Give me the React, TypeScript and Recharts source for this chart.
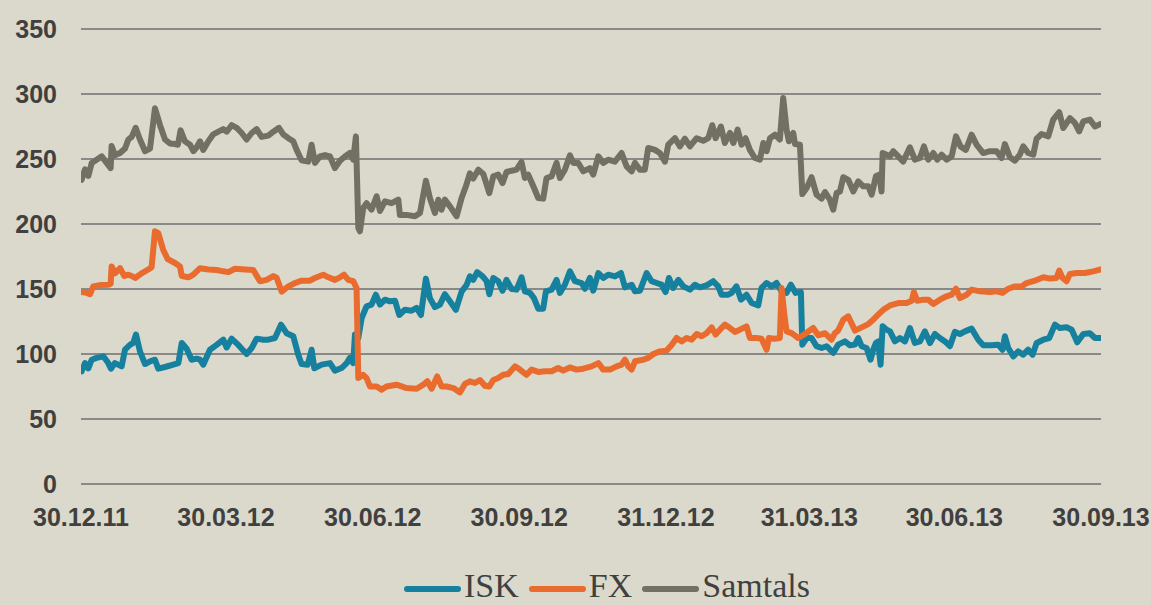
import React from 'react';
import { LineChart, Line, XAxis, YAxis, CartesianGrid } from 'recharts';

// x = days after 30.12.2011
const xTickDays = [0, 91, 183, 275, 367, 457, 548, 640];
const xTickLabels = ['30.12.11', '30.03.12', '30.06.12', '30.09.12', '31.12.12', '31.03.13', '30.06.13', '30.09.13'];
const yTicks = [0, 50, 100, 150, 200, 250, 300, 350];

const iskPoints: [number, number][] = [
  [0.4, 86.7], [2.5, 93], [4.6, 89], [6.7, 95.6], [9.8, 97], [14, 98.2], [17.1, 93], [18.8, 88.7], [21.3, 93], [25.5, 90.5],
  [27.6, 103.3], [30.7, 107], [32.8, 108.5], [34.5, 115], [37, 102], [40.2, 92.3], [43.3, 94.4], [46.4, 95.6], [48.5, 88.7], [52.7, 90],
  [57.9, 91.8], [61.1, 93], [63.2, 108.5], [66.3, 104], [69.4, 95.6], [72.6, 96.4], [74.7, 95.6], [76.7, 91.8], [80.9, 103.3], [85.1, 107],
  [89.3, 111], [91.4, 105], [94.5, 111.8], [98.7, 107], [103.9, 100], [107.1, 104.6], [110.2, 111.8], [114.4, 111], [117.5, 111], [121.7, 112.3],
  [125.5, 122.6], [129, 116], [133.2, 113.6], [136.3, 99.5], [138.4, 92.3], [142.2, 91.8], [144.7, 103.3], [146.4, 89], [151, 91.8], [156.2, 93],
  [159.3, 87.2], [163.5, 89.2], [166.7, 93], [168.7, 97], [170.8, 93], [171.9, 115], [174, 112.3], [176.1, 127.7], [179.2, 136.7], [182.3, 138],
  [185, 145.6], [187.6, 138], [190.7, 141.8], [193.8, 140.5], [197, 141], [199.7, 130], [203.2, 134], [207.4, 133.3], [210.6, 135.4], [213.3, 130],
  [216.4, 158], [218.9, 143], [222.1, 136], [225.2, 138], [228.3, 146], [231.5, 140.5], [235.2, 134], [238.8, 148], [242, 153.3], [244, 159.7],
  [246.1, 157], [248.6, 163], [252, 159.7], [254.5, 156], [256.2, 146], [258.7, 158.5], [261.8, 156], [264.5, 148.7], [267, 157], [270.2, 150],
  [273.3, 149.5], [276.4, 159], [278.5, 148.2], [281.7, 147], [284.2, 143], [286.9, 134.9], [290, 134.9], [291.7, 148.2], [295.3, 149.5], [298.4, 157],
  [300.5, 147], [303.6, 153.3], [306.8, 163.6], [309.9, 156], [314.1, 154.6], [316.2, 150.2], [319.3, 158.5], [321.4, 148.7], [324.6, 162.3], [327.7, 158.5],
  [330.8, 161], [335, 159.7], [338.8, 162.3], [341.3, 151.3], [345.5, 153.3], [347.6, 148.2], [350.7, 148.7], [354.9, 162.3], [358, 156], [361.2, 154.6],
  [364.3, 153.3], [366.8, 147.7], [368.9, 158.5], [371.6, 150.8], [374.8, 157], [377.9, 152], [382.1, 149.5], [385.2, 153.3], [388.3, 151.3], [392.5, 152.8],
  [396.7, 156], [399.8, 152], [401.9, 145.6], [406.1, 145.6], [408.2, 147], [411.3, 152], [414.1, 141.8], [417.6, 145.6], [420.8, 139.2], [424.9, 137.4],
  [427, 150.8], [430.2, 154.6], [433.3, 152], [436.4, 154.6], [439.6, 148.2], [442.7, 147], [445.4, 153.3], [448.4, 147], [451.7, 147.7], [452.6, 107.2],
  [455.3, 112.3], [458.4, 112.3], [461.5, 106], [464.7, 104.6], [467.8, 106], [472, 100.8], [475.1, 107.2], [479.3, 109.7], [482.5, 106.7], [485.6, 107.2],
  [487.7, 112.3], [489.8, 106], [492.9, 104.6], [495.4, 95.6], [497.1, 103.3], [498.8, 108.5], [500.2, 109.7], [501.7, 91.8], [503, 121.3], [505.5, 118.7],
  [507.6, 117.4], [510.7, 109.7], [513.8, 112.3], [517, 109.7], [520.1, 120], [523.2, 108.5], [526.4, 109.7], [529.5, 117.4], [532.7, 108.5], [535.8, 115.4],
  [538.9, 112.3], [542.1, 109.7], [545.2, 106], [548.3, 117], [551.5, 115.4], [554.6, 117.4], [558.8, 119.5], [563, 111], [566.1, 106.7], [571.3, 106.7],
  [575.5, 107.2], [578.2, 103.3], [579.7, 113.6], [581.8, 104.6], [585, 98.2], [588.1, 102], [591.2, 99.5], [594.3, 103.3], [597.1, 99.5], [599.6, 108.5],
  [603.8, 111], [607.5, 112.3], [611.1, 122.6], [614.2, 120], [618.4, 120.5], [621.6, 118.7], [625.1, 109], [628.9, 115.4], [633, 116], [636.2, 112.3],
  [639.8, 112.3],
];

const fxPoints: [number, number][] = [
  [0.4, 147.7], [3.6, 147], [5.6, 146], [7.7, 152], [11.9, 153], [17.2, 153.3], [18.6, 154], [19.2, 167.4], [21.3, 162], [24.5, 166],
  [27.2, 160], [29.7, 161], [31.8, 160], [34, 158.5], [38, 162], [42.2, 165], [44.3, 166.7], [46.4, 194.4], [48.5, 193], [51.6, 180],
  [54.4, 173], [59, 170], [62.1, 167.4], [63.2, 160], [67.4, 159], [70.5, 161], [74.7, 166], [79.9, 165], [85.1, 164.6], [89.3, 163.6],
  [92.5, 163], [96.6, 165.6], [103, 165], [108.1, 164.6], [112.3, 156], [116.5, 157], [120.7, 160], [122.8, 158.5], [125.9, 148], [130.1, 152],
  [134.3, 154.6], [138.4, 156.4], [143.7, 156.4], [146.8, 158.5], [152, 161], [155.2, 159], [159.3, 157], [162.5, 159], [165, 161], [167.7, 157],
  [170.8, 156], [172.9, 150.8], [174, 81.5], [177.1, 84], [179.2, 81.5], [181.3, 75], [185.5, 75], [188.6, 72.6], [191.7, 75], [198, 76.4],
  [204.3, 73.8], [210.6, 73.3], [214.8, 76.4], [217.3, 79], [220, 73.3], [223.5, 82.8], [226.3, 75], [229.4, 75], [233.6, 73.8], [237.8, 70.5],
  [240.9, 77], [244, 79], [247.2, 77.7], [250.3, 80], [253.4, 75.6], [256.2, 75], [258.7, 80], [261.8, 81.5], [264.9, 84], [268.1, 84.6],
  [272.3, 90.5], [275.4, 88], [279.6, 84], [282.7, 88], [286.9, 86.2], [291.1, 86.7], [295.3, 86.7], [299.4, 89.2], [302.6, 87.2], [306.8, 89.7],
  [310.9, 88], [315.1, 88.7], [320.4, 90.5], [324.6, 93], [327.7, 88], [331.9, 88], [336.1, 90.5], [339.2, 91.8], [341.3, 95.6], [343.4, 90.5],
  [345.5, 88], [347.6, 94.4], [352.8, 95.6], [355.9, 97], [359.1, 100], [363.2, 102], [367.4, 102.6], [370.6, 107], [373.7, 112.3], [376.8, 109.7],
  [380, 112.3], [383.1, 111], [386.3, 115.4], [389.4, 113.6], [392.5, 116], [395.7, 120.5], [398.2, 115], [400.9, 118.7], [404, 122.6], [407.2, 120],
  [410.3, 117], [413.4, 118.7], [417.6, 121.3], [419.7, 112.3], [423.9, 112.3], [427, 111.8], [430.2, 103.3], [431.6, 112.3], [435, 111.8], [438.5, 112.3],
  [439.6, 150.8], [441.3, 130.2], [442.7, 117.4], [445.9, 116], [450, 112.3], [454.2, 115.4], [459.4, 120], [462.6, 114.4], [466.8, 116], [470.9, 111],
  [473, 116], [475.1, 118], [478.3, 126.4], [481.4, 129], [485.6, 118], [489.8, 120.5], [494, 123], [497.1, 126.4], [500.2, 130.2], [503.4, 134],
  [507.6, 137.4], [512.8, 139.2], [518, 139.2], [521.2, 141], [522.6, 147.7], [524.7, 141], [528.5, 141.8], [531.6, 141.8], [534.8, 138.5], [538.9, 141.8],
  [543.1, 144.4], [546.3, 145.6], [549, 150.2], [551.5, 143], [555.7, 145.6], [558.8, 149.5], [564, 148.2], [570.3, 147.7], [574.5, 148.2], [578.2, 147],
  [581.8, 150.2], [586, 152], [590.2, 152], [593.3, 154.6], [598.5, 156.4], [603.8, 159], [608, 158], [612.1, 158.5], [613.8, 164.1], [615.9, 158.5],
  [618.4, 156], [620.5, 161.5], [624.7, 162.3], [629.9, 162.3], [635.1, 163.6], [639.8, 165],
];

const samtalsPoints: [number, number][] = [
  [0.4, 234], [2.5, 242], [4.6, 237], [6.7, 247], [9.8, 249.5], [13, 252], [16.1, 247], [18.6, 243], [19.2, 260], [21.3, 253],
  [24.5, 254.6], [27.6, 258], [29.7, 265], [31.8, 267], [34.3, 274], [37, 265], [40.2, 256], [43.3, 258], [46.4, 289], [49.6, 276],
  [52.7, 265], [55.8, 262], [59, 261.5], [60.8, 261], [62.5, 272], [65.2, 263.6], [68.4, 261], [70.5, 256], [72.6, 259], [74.7, 263.6],
  [76.7, 257], [79.9, 263.6], [83, 269], [86.2, 271], [89.3, 273], [91.4, 271], [94.5, 276], [97.7, 274], [100.8, 270], [103.9, 265],
  [107.1, 270], [110.2, 273], [113.3, 267], [117.5, 268], [120.7, 271], [124.2, 274], [126.9, 269], [130.1, 266], [133.2, 263.6], [135.3, 257],
  [138.4, 249], [142.6, 248], [144.7, 261], [146.8, 247], [149.9, 252], [153.1, 253], [156.2, 252], [159.3, 243], [162.5, 248.7], [165.6, 252],
  [168.7, 254.6], [170.8, 249.5], [172.5, 267.4], [174, 197], [175, 194.4], [177.1, 212.3], [179.2, 216], [182.3, 211], [185.5, 221.3], [187.6, 210],
  [190.7, 217.4], [194.9, 216], [199.1, 218.7], [200.1, 207], [204.3, 207], [209.5, 206], [212.7, 208.5], [216.4, 233.3], [218.9, 220], [222.1, 208.5],
  [224.2, 218.7], [226.2, 211], [228.3, 218.7], [231.5, 213.6], [235.7, 206], [238.8, 220], [241.5, 229], [244, 239], [246.1, 235], [249.3, 241.8],
  [252.4, 238.5], [256.2, 223.8], [258.7, 236.7], [261.8, 238], [264.5, 231.5], [267, 240], [270.2, 241], [273.3, 241.8], [276.4, 247.7], [278.5, 235.4],
  [280.6, 238], [283.8, 229], [286.9, 220], [290, 219.5], [292.1, 235.4], [295.3, 236.7], [298.4, 247], [300.5, 235.4], [303.6, 241.8], [306.8, 252.8],
  [308.9, 247], [312, 247], [315.1, 240.5], [319.3, 243], [321.4, 238], [324.6, 252], [327.7, 247], [330.8, 249.5], [335, 248], [339.2, 254.6],
  [342.3, 244.4], [345.5, 240.5], [347.6, 247], [350.7, 241.8], [353.8, 241.8], [355.9, 258.5], [360.1, 257], [363.2, 254.6], [366.4, 248], [368.5, 261],
  [372.7, 266], [375.8, 259.7], [378.9, 265.6], [382.1, 259.7], [386.3, 266], [390.4, 264], [393.6, 266], [396.1, 276], [398.2, 266], [401.5, 275],
  [404, 262.3], [407.2, 270], [409.3, 262.3], [412, 272.6], [414.5, 261], [417, 266], [419.7, 257], [422.8, 250.8], [426, 249.5], [428.1, 262.3],
  [430.2, 256], [432.3, 266], [435.4, 268.7], [438.5, 265], [440.6, 297], [442.7, 272.6], [444.2, 263.6], [446.9, 270], [448, 261.5], [451.1, 261],
  [452.6, 223], [455.3, 227.7], [458.4, 236], [461.5, 222.6], [464.7, 219.5], [466.8, 224.6], [469.9, 218.7], [472, 211], [474.1, 223.8], [476.2, 225],
  [478.3, 236], [481.4, 234], [484.6, 225], [487.7, 232.8], [490.8, 229], [494, 229], [496.1, 222.6], [498.8, 236.7], [500.9, 238], [502.3, 225],
  [503, 254.6], [505.5, 253.3], [507.6, 252], [509.7, 256], [512.8, 252], [515.9, 248], [520.1, 259], [523.2, 249.5], [526.4, 250.8], [528.9, 259.7],
  [531.6, 249.5], [534.8, 254.6], [537.3, 249.5], [540, 253.3], [543.1, 249.5], [546.3, 252], [549, 267.4], [551.9, 259.7], [555.2, 257], [558.8, 268.7],
  [561.9, 261], [566.1, 254.6], [570.3, 256], [574.5, 256], [577.6, 250.8], [579.7, 261.5], [582.9, 251.3], [586, 248.7], [589.1, 253.3], [591.2, 259.7],
  [594.3, 254.6], [597.5, 253.3], [599.6, 265.6], [602.7, 269.2], [606.9, 267.4], [610, 280.3], [613.8, 286], [616.3, 273.8], [620.5, 281.5], [623.6, 277.7],
  [626.3, 271.3], [628.9, 279], [633, 280.3], [636.2, 275], [639.8, 277],
];

const series = [
  { name: 'ISK', color: '#16809f', points: iskPoints },
  { name: 'FX', color: '#e96b2d', points: fxPoints },
  { name: 'Samtals', color: '#726f63', points: samtalsPoints },
];

const W = 1151;
const H = 605;
const BG = '#dbd9cb';
const TEXT = '#404040';
const tickStyle = { fontFamily: '"Liberation Sans", Arial, sans-serif', fontWeight: 700, fontSize: 25, fill: TEXT };

export default function App() {
  return (
    <div style={{ position: 'fixed', left: 0, top: 0, width: W, height: H, background: BG, overflow: 'hidden' }}>
      <LineChart width={W} height={H} margin={{ top: 29, right: 50, bottom: 0, left: 0 }}>
        <CartesianGrid vertical={false} stroke="#898989" strokeWidth={2.2} />
        <XAxis
          type="number"
          dataKey="day"
          domain={[0, 640]}
          ticks={xTickDays}
          tickFormatter={(d: number) => xTickLabels[xTickDays.indexOf(d)] ?? ''}
          axisLine={false}
          tickLine={false}
          tickSize={0}
          tickMargin={24}
          height={121}
          interval={0}
          tick={tickStyle}
          allowDataOverflow
        />
        <YAxis
          type="number"
          domain={[0, 350]}
          ticks={yTicks}
          axisLine={false}
          tickLine={false}
          tickSize={0}
          tickMargin={24}
          width={81}
          interval={0}
          tick={tickStyle}
        />
        {series.map((s) => (
          <Line
            key={s.name}
            name={s.name}
            data={s.points.map(([day, value]) => ({ day, value }))}
            dataKey="value"
            type="linear"
            stroke={s.color}
            strokeWidth={6}
            strokeLinejoin="round"
            strokeLinecap="round"
            dot={false}
            activeDot={false}
            isAnimationActive={false}
          />
        ))}
      </LineChart>
      <div
        style={{
          position: 'absolute',
          left: 404,
          top: 566,
          height: 39,
          display: 'flex',
          alignItems: 'center',
          fontFamily: '"Liberation Serif", "Times New Roman", serif',
          fontSize: 34,
          lineHeight: '39px',
          color: TEXT,
          whiteSpace: 'nowrap',
        }}
      >
        {series.map((s) => (
          <div key={s.name} style={{ display: 'flex', alignItems: 'center', marginRight: 10 }}>
            <span
              style={{
                display: 'inline-block',
                width: 57,
                height: 6,
                borderRadius: 3,
                background: s.color,
                marginRight: 3,
                position: 'relative',
                top: 3,
              }}
            />
            <span>{s.name}</span>
          </div>
        ))}
      </div>
    </div>
  );
}
